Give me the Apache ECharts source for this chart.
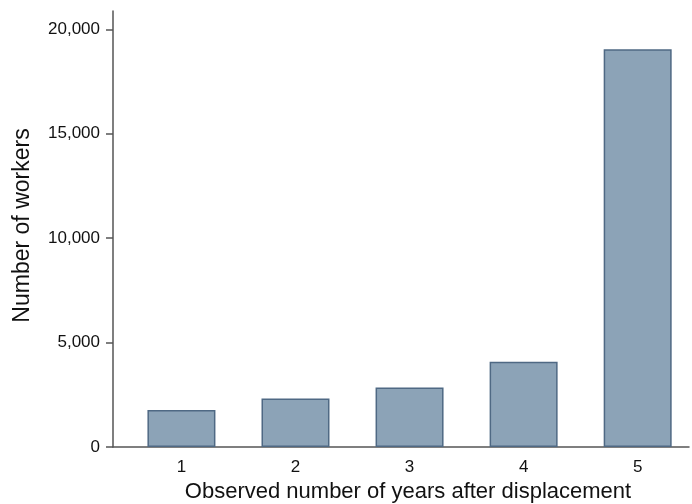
<!DOCTYPE html>
<html><head><meta charset="utf-8">
<script src="https://cdn.jsdelivr.net/npm/echarts@6/dist/echarts.min.js"></script>
<style>html,body{margin:0;padding:0;background:#fff}#c{width:692px;height:504px}</style>
</head><body><div id="c"></div>
<script>
const years = [1, 2, 3, 4, 5];
const workers = [1770, 2325, 2850, 4080, 19050];
const yTicks = [0, 5000, 10000, 15000, 20000];
const xTicks = [1, 2, 3, 4, 5];

const chart = echarts.init(document.getElementById('c'), null, {renderer: 'canvas'});
const font = 'Liberation Sans, Arial, sans-serif';
chart.setOption({
  animation: false,
  grid: {left: 113, right: 3, top: 11, bottom: 57, outerBoundsMode: 'none', containLabel: false},
  xAxis: {
    type: 'value', min: 0.4, max: 5.45,
    name: 'Observed number of years after displacement',
    nameLocation: 'middle', nameGap: 34,
    nameTextStyle: {fontFamily: font, fontSize: 22, color: '#111', padding: [0, 0, 0, 14]},
    axisLine: {lineStyle: {color: '#555', width: 1.5}},
    axisTick: {show: false},
    splitLine: {show: false},
    axisLabel: {customValues: xTicks, fontFamily: font, fontSize: 17, color: '#111', margin: 12,
      formatter: v => String(v)}
  },
  yAxis: {
    type: 'value', min: 0, max: 20880,
    name: 'Number of workers',
    nameLocation: 'middle', nameGap: 79, nameRotate: 90,
    nameTextStyle: {fontFamily: font, fontSize: 23, color: '#111', padding: [0, 0, 0, 7]},
    axisLine: {show: true, lineStyle: {color: '#555', width: 1.5}},
    axisTick: {show: true, customValues: yTicks, length: 7, lineStyle: {color: '#555', width: 1.5}},
    splitLine: {show: false},
    axisLabel: {customValues: yTicks, fontFamily: font, fontSize: 17, color: '#111', margin: 13,
      formatter: v => v.toLocaleString('en-US')}
  },
  series: [{
    type: 'bar', barWidth: 68,
    data: years.map((y, i) => [y, workers[i]]),
    itemStyle: {color: '#8ca3b7', borderColor: '#4f6984', borderWidth: 1.5}
  }]
});
</script></body></html>
